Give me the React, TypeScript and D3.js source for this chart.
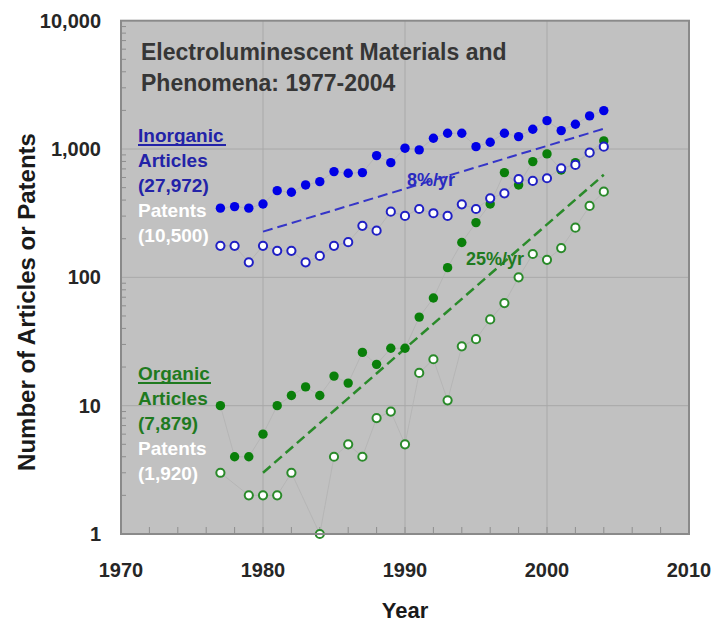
import React from 'react';
import * as d3 from 'd3';

const years = [1977, 1978, 1979, 1980, 1981, 1982, 1983, 1984, 1985, 1986, 1987, 1988, 1989, 1990, 1991, 1992, 1993, 1994, 1995, 1996, 1997, 1998, 1999, 2000, 2001, 2002, 2003, 2004];
const inorganicArticles = [346, 356, 346, 373, 474, 460, 525, 557, 667, 648, 655, 889, 783, 1015, 984, 1214, 1328, 1328, 1044, 1130, 1328, 1250, 1426, 1664, 1392, 1561, 1812, 1992];
const inorganicPatents = [176, 176, 131, 176, 161, 161, 131, 147, 176, 188, 252, 231, 325, 301, 341, 316, 301, 371, 341, 413, 452, 582, 564, 592, 708, 752, 937, 1044];
const organicArticles = [10, 4, 4, 6, 10, 12, 14, 12, 17, 15, 26, 21, 28, 28, 49, 69, 119, 187, 267, 373, 655, 525, 798, 916, 687, 783, 937, 1156];
const organicPatents: (number | null)[] = [3, null, 2, 2, 2, 3, null, 1, 4, 5, 4, 8, 9, 5, 18, 23, 11, 29, 33, 47, 63, 100, 152, 137, 169, 244, 360, 465];

const trendYears = [1980, 2004];
const inorganicTrend = [227, 1440];
const organicTrend = [3, 630];

const xTicks = [1970, 1980, 1990, 2000, 2010];
const xGrid = [1980, 1990, 2000];
const yTicks = [1, 10, 100, 1000, 10000];
const yTickLabels = ['1', '10', '100', '1,000', '10,000'];
const yGrid = [10, 100, 1000];

const titleLines = ['Electroluminescent Materials and', 'Phenomena: 1977-2004'];
const inorganicLabels = ['Inorganic', 'Articles', '(27,972)', 'Patents', '(10,500)'];
const organicLabels = ['Organic', 'Articles', '(7,879)', 'Patents', '(1,920)'];

const W = 717;
const H = 622;
const L = 121, R = 689, T = 20.7, B = 534;
const FONT = '"Liberation Sans", Arial, Helvetica, sans-serif';

const BLUE = '#0000e6';
const BLUE_TEXT = '#2323a8';
const BLUE_DASH = '#3535c8';
const GREEN = '#0a7f0a';
const GREEN_TEXT = '#1f7a1f';
const GREEN_OPEN = '#2a8a2a';

export default function App() {
  const x = d3.scaleLinear().domain([1970, 2010]).range([L, R]);
  const y = d3.scaleLog().domain([1, 10000]).range([B, T]);

  const pts = (vals: (number | null)[]) =>
    years.map((yr, i) => ({ yr, v: vals[i] })).filter(d => d.v != null && (d.v as number) > 0) as { yr: number; v: number }[];

  const line = d3.line<{ yr: number; v: number }>().x(d => x(d.yr)).y(d => y(d.v));

  const trend = (vals: number[]) => line(trendYears.map((yr, i) => ({ yr, v: vals[i] }))) || '';

  const minorY: number[] = [];
  for (let d = 0; d < 4; d++) for (let k = 2; k <= 9; k++) minorY.push(k * Math.pow(10, d));
  const minorX = d3.range(1972, 2010, 2);

  const series = [
    { vals: organicPatents, filled: false, color: GREEN_OPEN },
    { vals: inorganicArticles, filled: true, color: BLUE },
    { vals: organicArticles, filled: true, color: GREEN },
    { vals: inorganicPatents, filled: false, color: '#2020c4' },
  ];

  return (
    <svg width={W} height={H} style={{ position: 'absolute', left: 0, top: 0, background: '#fff' }} fontFamily={FONT}>
      <rect x={L} y={T} width={R - L} height={B - T} fill="#c1c1c1" />
      {xGrid.map(g => (
        <line key={'xg' + g} x1={x(g)} x2={x(g)} y1={T} y2={B} stroke="#a9a9a9" strokeWidth={1} />
      ))}
      {yGrid.map(g => (
        <line key={'yg' + g} x1={L} x2={R} y1={y(g)} y2={y(g)} stroke="#a9a9a9" strokeWidth={1} />
      ))}
      {minorY.map(v => (
        <line key={'my' + v} x1={L} x2={L + 5} y1={y(v)} y2={y(v)} stroke="#8e8e8e" strokeWidth={1} />
      ))}
      {minorX.map(v => (
        <line key={'mx' + v} x1={x(v)} x2={x(v)} y1={B} y2={B - 7} stroke="#8e8e8e" strokeWidth={1} />
      ))}

      {series.map((s, i) => (
        <path key={'ln' + i} d={line(pts(s.vals)) || ''} fill="none" stroke="#b2b2b2" strokeWidth={0.8} />
      ))}

      <path d={trend(inorganicTrend)} fill="none" stroke={BLUE_DASH} strokeWidth={2} strokeDasharray="10,5" />
      <path d={trend(organicTrend)} fill="none" stroke={GREEN_OPEN} strokeWidth={2.5} strokeDasharray="10,5" />

      {series.map((s, i) => (
        <g key={'s' + i}>
          {pts(s.vals).map(d =>
            s.filled ? (
              <circle key={d.yr} cx={x(d.yr)} cy={y(d.v)} r={4.7} fill={s.color} />
            ) : (
              <circle key={d.yr} cx={x(d.yr)} cy={y(d.v)} r={4.1} fill="#ffffff" stroke={s.color} strokeWidth={2} />
            )
          )}
        </g>
      ))}

      <rect x={L} y={T} width={R - L} height={B - T} fill="none" stroke="#8a8a8a" strokeWidth={2} />

      {titleLines.map((t, i) => (
        <text key={'t' + i} x={141} y={60 + i * 30.5} fontSize={23} fontWeight="bold" fill="#363636">{t}</text>
      ))}

      {inorganicLabels.map((t, i) => (
        <text key={'il' + i} x={138} y={142 + i * 25} fontSize={19} fontWeight="bold" fill={i < 3 ? BLUE_TEXT : '#ffffff'}>{t}</text>
      ))}
      <line x1={138} x2={226} y1={145} y2={145} stroke={BLUE_TEXT} strokeWidth={1.8} />

      {organicLabels.map((t, i) => (
        <text key={'ol' + i} x={138} y={380 + i * 25} fontSize={19} fontWeight="bold" fill={i < 3 ? GREEN_TEXT : '#ffffff'}>{t}</text>
      ))}
      <line x1={138} x2={211} y1={383} y2={383} stroke={GREEN_TEXT} strokeWidth={1.8} />

      <text x={407} y={186} fontSize={18} fontWeight="bold" fill="#2b2bc0">8%/yr</text>
      <text x={466} y={265} fontSize={18} fontWeight="bold" fill={GREEN_TEXT}>25%/yr</text>

      {xTicks.map(t => (
        <text key={'xt' + t} x={x(t)} y={577} fontSize={20} fontWeight="bold" fill="#262626" textAnchor="middle">{t}</text>
      ))}
      {yTicks.map((t, i) => (
        <text key={'yt' + t} x={101} y={y(t) + 7} fontSize={20} fontWeight="bold" fill="#262626" textAnchor="end">{yTickLabels[i]}</text>
      ))}

      <text x={405} y={618} fontSize={22} fontWeight="bold" fill="#1a1a1a" textAnchor="middle">Year</text>
      <text transform={`translate(35, 302) rotate(-90)`} fontSize={24} fontWeight="bold" fill="#1a1a1a" textAnchor="middle">Number of Articles or Patents</text>
    </svg>
  );
}
